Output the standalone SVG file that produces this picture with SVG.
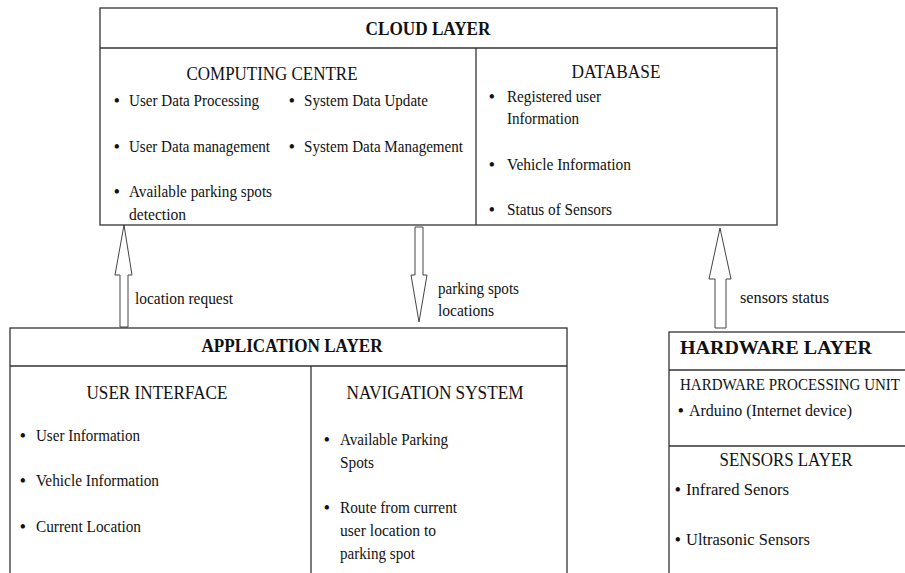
<svg xmlns="http://www.w3.org/2000/svg" width="905" height="573" viewBox="0 0 905 573" font-family="'Liberation Serif', 'Times New Roman', serif">
<style>
.box{fill:#fff;stroke:#333;stroke-width:1.3}
.ln{stroke:#333;stroke-width:1.3;fill:none}
.arr{fill:#fff;stroke:#444;stroke-width:1}
text{fill:#111}
.t{font-size:19px;font-weight:bold;text-anchor:middle}
.h{font-size:18px;text-anchor:middle}
.b{font-size:16px}
.d{font-size:16px;font-weight:bold}
.lb{font-size:16px}
</style>
<rect width="905" height="573" fill="#fff"/>
<g id="connectors">
<path class="arr" d="M124,225 L132,275 L128,275 L128,327 L120,327 L120,275 L115,275 Z"/>
<path class="arr" d="M415,227 L423,227 L423,275 L427,275 L419,322 L411,275 L415,275 Z"/>
<path class="arr" d="M720,228 L731,279 L726,279 L726,328 L715,328 L715,279 L709,279 Z"/>
<text class="lb" x="135" y="304" textLength="98" lengthAdjust="spacingAndGlyphs">location request</text>
<text class="lb" x="438" y="294" textLength="81" lengthAdjust="spacingAndGlyphs">parking spots</text>
<text class="lb" x="438" y="316" textLength="56" lengthAdjust="spacingAndGlyphs">locations</text>
<text class="lb" x="740" y="303" textLength="89" lengthAdjust="spacingAndGlyphs">sensors status</text>
</g>
<g id="cloud-layer">
<rect class="box" x="100" y="8" width="677" height="217"/>
<line class="ln" x1="100" y1="48" x2="777" y2="48"/>
<line class="ln" x1="476" y1="48" x2="476" y2="225"/>
<text class="t" x="428" y="35" textLength="125" lengthAdjust="spacingAndGlyphs">CLOUD LAYER</text>
</g>
<g id="computing-centre">
<text class="h" x="272" y="80" textLength="171" lengthAdjust="spacingAndGlyphs">COMPUTING CENTRE</text>
<text class="d" x="114" y="106">•</text><text class="b" x="129" y="106" textLength="130" lengthAdjust="spacingAndGlyphs">User Data Processing</text>
<text class="d" x="114" y="152">•</text><text class="b" x="129" y="152" textLength="141" lengthAdjust="spacingAndGlyphs">User Data management</text>
<text class="d" x="114" y="197">•</text><text class="b" x="129" y="197" textLength="143" lengthAdjust="spacingAndGlyphs">Available parking spots</text>
<text class="b" x="129" y="220" textLength="57" lengthAdjust="spacingAndGlyphs">detection</text>
<text class="d" x="289" y="106">•</text><text class="b" x="304" y="106" textLength="124" lengthAdjust="spacingAndGlyphs">System Data Update</text>
<text class="d" x="289" y="152">•</text><text class="b" x="304" y="152" textLength="159" lengthAdjust="spacingAndGlyphs">System Data Management</text>
</g>
<g id="database">
<text class="h" x="616" y="78" textLength="89" lengthAdjust="spacingAndGlyphs">DATABASE</text>
<text class="d" x="489" y="102">•</text><text class="b" x="507" y="102" textLength="94" lengthAdjust="spacingAndGlyphs">Registered user</text>
<text class="b" x="507" y="124" textLength="72" lengthAdjust="spacingAndGlyphs">Information</text>
<text class="d" x="489" y="170">•</text><text class="b" x="507" y="170" textLength="124" lengthAdjust="spacingAndGlyphs">Vehicle Information</text>
<text class="d" x="489" y="215">•</text><text class="b" x="507" y="215" textLength="105" lengthAdjust="spacingAndGlyphs">Status of Sensors</text>
</g>
<g id="application-layer">
<rect class="box" x="10" y="328" width="557" height="250"/>
<line class="ln" x1="10" y1="366" x2="567" y2="366"/>
<line class="ln" x1="311" y1="366" x2="311" y2="573"/>
<text class="t" x="292" y="352" textLength="181" lengthAdjust="spacingAndGlyphs">APPLICATION LAYER</text>
</g>
<g id="user-interface">
<text class="h" x="157" y="399" textLength="141" lengthAdjust="spacingAndGlyphs">USER INTERFACE</text>
<text class="d" x="20" y="441">•</text><text class="b" x="36" y="441" textLength="104" lengthAdjust="spacingAndGlyphs">User Information</text>
<text class="d" x="20" y="486">•</text><text class="b" x="36" y="486" textLength="123" lengthAdjust="spacingAndGlyphs">Vehicle Information</text>
<text class="d" x="20" y="532">•</text><text class="b" x="36" y="532" textLength="105" lengthAdjust="spacingAndGlyphs">Current Location</text>
</g>
<g id="navigation-system">
<text class="h" x="435" y="399" textLength="177" lengthAdjust="spacingAndGlyphs">NAVIGATION SYSTEM</text>
<text class="d" x="324" y="445">•</text><text class="b" x="340" y="445" textLength="108" lengthAdjust="spacingAndGlyphs">Available Parking</text>
<text class="b" x="340" y="468" textLength="34" lengthAdjust="spacingAndGlyphs">Spots</text>
<text class="d" x="324" y="513">•</text><text class="b" x="340" y="513" textLength="117" lengthAdjust="spacingAndGlyphs">Route from current</text>
<text class="b" x="340" y="536" textLength="96" lengthAdjust="spacingAndGlyphs">user location to</text>
<text class="b" x="340" y="559" textLength="75" lengthAdjust="spacingAndGlyphs">parking spot</text>
</g>
<g id="hardware-layer">
<rect class="box" x="669" y="332" width="245" height="250"/>
<line class="ln" x1="669" y1="370" x2="905" y2="370"/>
<line class="ln" x1="669" y1="446" x2="905" y2="446"/>
<text class="t" x="776" y="354" font-size="20" textLength="192" lengthAdjust="spacingAndGlyphs">HARDWARE LAYER</text>
</g>
<g id="hardware-processing-unit">
<text class="b" x="680" y="390" textLength="220" lengthAdjust="spacingAndGlyphs">HARDWARE PROCESSING UNIT</text>
<text class="d" x="678" y="416">•</text><text class="b" x="689" y="416" textLength="163" lengthAdjust="spacingAndGlyphs">Arduino (Internet device)</text>
</g>
<g id="sensors-layer">
<text class="h" x="786" y="466" textLength="133" lengthAdjust="spacingAndGlyphs">SENSORS LAYER</text>
<text class="d" x="675" y="495">•</text><text class="b" x="686" y="495" textLength="103" lengthAdjust="spacingAndGlyphs">Infrared Senors</text>
<text class="d" x="675" y="545">•</text><text class="b" x="686" y="545" textLength="124" lengthAdjust="spacingAndGlyphs">Ultrasonic Sensors</text>
</g>
</svg>
